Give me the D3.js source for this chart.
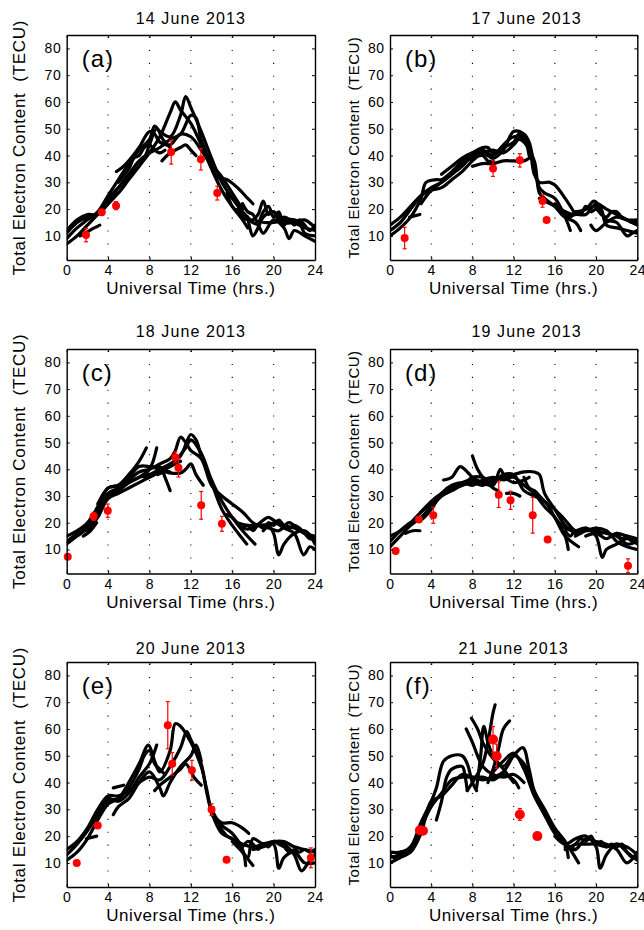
<!DOCTYPE html>
<html>
<head>
<meta charset="utf-8">
<script src="https://cdn.jsdelivr.net/npm/d3@7"></script>
<style>
  body { margin: 0; background: #fff; }
  svg text { font-family: "Liberation Sans", Arial, Helvetica, sans-serif; fill: #000; white-space: pre; }
</style>
</head>
<body>
<svg id="fig" width="644" height="930"></svg>
<script>
// ---- data ----
const panelLetters = ["(a)", "(b)", "(c)", "(d)", "(e)", "(f)"];
const panelTitles = ["14 June 2013", "17 June 2013", "18 June 2013", "19 June 2013", "20 June 2013", "21 June 2013"];
const xTickValues = [0, 4, 8, 12, 16, 20, 24];
const yTickValues = [10, 20, 30, 40, 50, 60, 70, 80];
const xLabel = "Universal Time (hrs.)";
const yLabel = "Total Electron Content  (TECU)";

// GPS TEC arcs, [UT hour, TECU]
const tracksA = [
  [[0,7],[1,10],[2,14],[3,18],[4,22],[5,26],[6,31],[7,36],[8,41],[9,47],[10,56],[10.5,60],[11,57],[12,52],[13,44],[14,35],[15,27],[16,21],[17,16],[17.5,13]],
  [[0,9],[1,13],[2,16],[3,19],[4,25],[5,31],[6,37],[7,42],[8,46],[8.5,51],[9,49],[10,47],[11,55],[11.5,62],[12,58],[13,49],[14,39],[15,30],[16,24],[17,19],[18,15]],
  [[0,11],[1,15],[2,17],[3,18],[4,22],[5,28],[6,33],[7,38],[8,41],[9,43],[10,46],[11,48],[12,55],[12.5,54],[13,46],[14,37],[15,32],[16,26],[17,20]],
  [[0,12],[1,16],[2,18],[2.8,18],[3.5,21],[4.5,26],[5.5,30],[6.5,34],[7.5,39],[8,44],[8.7,50],[9.3,46],[10,43]],
  [[1.3,10],[2.2,12],[3.2,14]],
  [[4.8,34],[5.5,36],[6,38],[7,43],[8,49],[8.5,48],[9,45],[10,44],[11,48],[12,47],[13,42],[14,36],[14.5,32],[15.5,31],[16.5,28],[17.5,24],[18,22]],
  [[5,30],[6,35],[6.5,39],[7,40],[7.5,43],[8,44],[8.5,42],[9,41],[9.5,42]],
  [[9.2,38],[10,41],[11,43],[11.5,44],[12,42],[12.5,40]],
  [[15.5,26],[16,21],[17,17],[17.5,16],[18,16],[18.5,18],[19,23],[19.5,18],[20,19],[20.5,16],[21,17],[22,15],[23,13],[24,12]],
  [[16.5,20],[17,18],[18,15],[18.5,14],[19,11],[20,16],[21,13],[21.5,9],[22,12],[23,10],[24,8]],
  [[17.5,17],[18,10],[18.5,13],[19,17],[20,19],[21,15],[22,15],[23,16],[24,13]],
  [[17,22],[17.5,19],[18,18],[18.5,15],[19,19],[19.5,21],[20,17],[20.5,19],[21,14],[21.5,16],[22,14],[22.5,16],[23,14],[23.5,12],[24,14]],
  [[19,15],[20,15],[21,16],[22,16],[22.5,15],[23,11],[24,10]]
];
const tracksB = [
  [[0,10],[1,13],[2,17],[3,24],[3.5,30],[4.5,31],[5,31],[6,34],[7,38],[8,41],[9,43],[9.5,43],[10,41],[11,43],[12,45],[12.5,48],[13,47],[13.5,44],[14,33],[14.5,30],[15.5,30],[16,29],[17,24],[18,18]],
  [[0,12],[1,15],[2,20],[3,25],[4,28],[5,30],[6,33],[7,36],[8,40],[9,41],[10,39],[11,42],[12,49],[13,48],[13.5,45],[14,36],[14.5,28],[15,26],[16,24],[17,17],[17.5,12]],
  [[0,14],[1,17],[2,21],[3,25],[4,27],[5,28],[6,31],[7,34],[8,38],[9,41],[10,42],[11,41],[12,44],[12.5,46],[13,45],[14,38],[14.5,26],[15,24],[16,21],[17,17],[18,15],[18.5,12]],
  [[3,22],[4,27],[5,30],[6,33],[7,37],[8,39],[9,40],[9.5,38],[10,38]],
  [[5,33],[6,36],[7,39],[8,41],[9,42],[10,40],[11,44],[12,47],[13,46],[13.5,40]],
  [[1.9,17],[2.9,18]],
  [[8,36],[9,37],[10,37],[11,38],[12,38],[13,38],[13.5,39]],
  [[14.5,24],[15,23],[16,21],[17,17],[18,18],[19,18],[20,22],[21,20],[22,18],[23,16],[24,14]],
  [[16,22],[17,19],[18,18],[19,20],[20,21],[21,16],[22,15],[23,10],[23.5,11],[24,12]],
  [[17,19],[17.5,17],[18,19],[18.5,18],[19,21],[19.5,19],[20,20],[20.5,18],[21,17],[21.5,19],[22,19],[22.5,17],[23,16],[23.5,15],[24,15]],
  [[18,19],[19,20],[19.8,23],[20.5,20],[21,14],[22,13],[23,12],[24,11]],
  [[19.5,14],[20,12],[21,15],[22,17],[23,16],[24,16]]
];
const tracksC = [
  [[0,12],[1,15],[2,18],[3,24],[4,31],[5,33],[6,36],[7,39],[8,40],[9,42],[10,44],[10.5,47],[11,52],[11.5,50],[12,47],[13,44],[14,34],[15,30],[16,27],[17,24],[18,20],[18.5,19]],
  [[0,15],[1,17],[2,20],[3,26],[4,33],[5,34],[6,38],[7,43],[7.7,48]],
  [[0,13],[1,16],[2,19],[3,24],[4,30],[5,32],[6,35],[7,37],[8,40],[8.7,48]],
  [[2,17],[3,22],[4,29],[5,31],[6,33],[7,35],[8,37],[9,39],[10,41],[11,43]],
  [[3,27],[4,33],[5,34],[6,37],[7,41],[8,41],[9,40],[10,39]],
  [[1.6,15],[2.3,17],[2.9,20]],
  [[5,32],[6,35],[7,37],[8,38],[9,40],[10,42],[11,45],[12,53],[12.5,51],[13,45],[14,35],[15,25],[16,19],[17,14],[17.4,12]],
  [[7.5,37],[8,40],[9,41],[9.5,37],[10,32]],
  [[8.8,38],[9.5,39],[10,38.6],[11,38.6],[11.5,40],[12,42],[12.5,38],[13.2,34]],
  [[10.5,43],[11.5,48],[12,51],[13,46],[14,36],[15,28],[16,22],[17,17],[18.2,12]],
  [[15.5,23],[16,22],[17,18],[18,18],[19,21],[19.5,22],[20,21],[21,19],[22,18],[23,16],[24,15]],
  [[16.5,20],[17.5,19],[18.5,19],[19.5,19],[20,16],[20.5,8],[21,12],[22,16],[23,17],[24,13]],
  [[17,18],[17.5,19],[18,17],[18.5,19],[19,18],[19.5,20],[20,19],[20.5,21],[21,19],[21.5,18],[22,19],[22.5,18],[23,16],[23.5,14],[24,14]],
  [[19,17],[20,20],[21,18],[22,16],[22.9,8],[23.5,11],[24,10]],
  [[18.5,19],[19.5,18],[20.5,17],[21.5,20],[22.5,17],[23.5,15],[24,12]]
];
const tracksD = [
  [[0,11],[1,15],[2,19],[3,22],[4,26],[5,30],[6,33],[7,35],[8,36],[9,35],[10,36],[11,37],[12,38],[13,39],[14,39],[14.5,38],[15,31],[16,25],[17,19],[18,16]],
  [[0,13],[1,17],[2,20],[3,21],[4,25],[5,31],[6,34],[7,35],[8,34],[9,36],[10,37],[11,36],[12,37],[13,34],[14,31],[15,26],[16,22],[17,15],[17.3,10]],
  [[0,15],[1,17],[2,20],[3,24],[4,28],[5,31],[6,33],[7,34],[8,37],[9,37],[10,35],[11,38],[12,38],[13,32],[14,30],[15,28],[16,22],[17,15],[18.3,11]],
  [[3,24],[4,27],[5,30],[6,32],[7,34],[8,35],[9,34],[10,36],[11,37],[12,35],[13,36],[13.5,37]],
  [[1.5,16],[2.2,17],[2.9,17]],
  [[5.2,36],[6,37],[6.8,41],[7.5,39],[8,37],[9,35],[10,34],[10.7,40],[11,38]],
  [[8,45],[8.5,40],[9,37],[10,33],[10.5,32]],
  [[11.3,31],[12,31],[12.6,30]],
  [[13,37],[13.5,33],[14,32],[15,28],[16,25],[17,21],[18,17],[19,17],[20,17],[21,16],[22,15],[23,12],[24,13]],
  [[16,22],[17,18],[18,17],[19,18],[20,15],[20.6,7],[21,10],[22,12],[23,14],[24,12]],
  [[17,17],[17.5,15],[18,17],[18.5,16],[19,18],[19.5,17],[20,18],[20.5,16],[21,17],[21.5,15],[22,16],[22.5,14],[23,15],[23.5,13],[24,14]],
  [[18,15],[19,17],[20,18],[21,17],[22,13],[23,11],[24,10]],
  [[19,15],[20,16],[21,14],[22,16],[23,15],[24,14]]
];
const tracksE = [
  [[0,11],[1,14],[2,19],[3,26],[4,32],[5,34],[6,40],[7,47],[7.9,54],[8.5,48],[9,44],[10,52],[10.5,62],[11,61],[12,55],[13,46],[13.5,38],[14,30],[15,24],[16,21],[17,15],[17.3,9]],
  [[0,13],[1,17],[2,22],[3,28],[4,34],[5,33],[6,36],[7,42],[8,47],[8.7,54]],
  [[0,15],[1,18],[2,23],[3,30],[4,35],[5,35],[6,37],[7,40],[8,42],[9,41],[10,46],[11,53],[11.6,59],[12,56],[13,47],[13.5,37],[14,29],[15,21],[16,19],[17,14],[18,9]],
  [[3,27],[4,33],[5,34],[6,38],[7,45],[7.5,50],[8,52],[8.5,47],[9,45],[9.5,43]],
  [[1.9,19],[2.9,20]],
  [[4.5,38],[5.5,39]],
  [[4.5,28],[5,31],[6,34],[7,40],[8,44],[9,38],[9.35,35],[10,40],[11,46],[12,50],[12.5,54],[13,48]],
  [[8.5,37],[9,39],[10,42],[11,45],[11.5,47],[12.3,42],[13,39]],
  [[14,28],[15,25],[16,25],[17,23],[17.6,21]],
  [[14.5,25],[15.5,20],[16,19],[17,17],[18,16],[19,17],[20,18],[21,18],[22,16],[23,15],[24,14]],
  [[16,18],[17,14],[17.5,12],[18,19],[19,17],[20,17],[20.5,8],[21,12],[22,14],[23,10],[24,10]],
  [[17,16],[17.5,18],[18,17],[18.5,15],[19,17],[19.5,16],[20,18],[20.5,17],[21,16],[21.5,14],[22,15],[22.5,14],[23,15],[23.5,14],[24,15]],
  [[18,15],[19,16],[20,18],[21,17],[22,13],[22.7,7],[23.5,11],[24,13]]
];
const tracksF = [
  [[0,12],[1,13],[2,15],[3,23],[4,31],[5,36],[6,41],[7,42],[8,42],[9,42],[10,41],[11,43],[12,41],[12.5,38]],
  [[0,10],[1,12],[2,14],[3,21],[4,33],[5,35],[6,39],[7,43],[8,42],[9,41],[10,42],[11,44],[12,50],[12.9,53],[13.5,45],[14,37],[15,30],[16,23],[17,18],[18.3,10]],
  [[0,14],[1,14],[2,16],[3,25],[4,33],[4.5,38],[5.2,48],[6,50],[7,50],[7.5,47],[8,40],[8.4,37]],
  [[0,13],[0.5,12],[1,14],[1.5,13],[2,16],[2.5,18],[3,22]],
  [[4.5,26],[5,33],[5.5,42],[6,45],[7,46],[7.3,42],[7.5,37]],
  [[7.4,60],[8,55],[8.5,50],[9,46],[10,43],[11,42],[12,43],[13,40]],
  [[7.9,64],[8.5,60],[9,55],[10,49],[11,46],[12,50],[13,47],[14,36],[15,28],[16,21],[17,17],[18,15]],
  [[7.5,37],[8,40],[9,47],[9.5,55],[10,66],[10.2,69]],
  [[8.4,38],[8.8,50],[9.1,61],[9.5,55],[10,50],[11,45],[12,40]],
  [[9.5,40],[10,45],[10.5,52],[11,60],[11.6,63]],
  [[10,44],[11,48],[12,51],[13,45],[14,35],[15,28],[16,22],[17,17],[17.3,12]],
  [[16,20],[17,17],[18,19],[19,20],[20,16],[20.4,8],[21,13],[22,17],[23,14],[24,11]],
  [[17,15],[17.5,16],[18,17],[18.5,19],[19,18],[19.5,20],[20,17],[20.5,18],[21,16],[21.5,17],[22,16],[22.5,17],[23,14],[23.5,12],[24,12]],
  [[17,16],[18,15],[19,19],[20,18],[21,17],[22,15],[23,10],[24,14]],
  [[18,17],[19,17],[20,17],[21,16],[22,17],[23,16],[24,13]]
];

// red measurements, [UT hour, TECU, error half-width]
const obsA = [[1.87,10.3,2.5],[3.39,18.8,1.0],[4.77,21.3,1.5],[10.1,41.3,4.5],[12.97,38.6,4.0],[14.55,26.0,2.6]];
const obsB = [[1.42,9.2,4.0],[10.0,35.2,3.0],[12.6,38.2,2.5],[14.8,23.0,2.3],[15.2,15.9,0]];
const obsC = [[0.1,7.3,0],[2.6,22.4,1.5],[3.97,24.5,2.5],[10.5,44.5,2.0],[10.8,40.6,3.5],[13.0,26.5,5.2],[15.0,19.6,2.8]];
const obsD = [[0.55,9.4,0],[2.8,21.2,0.8],[4.2,22.8,3.0],[10.55,30.5,4.8],[11.7,28.4,3.4],[13.85,22.8,6.7],[15.3,13.7,0],[23.1,3.9,2.6]];
const obsE = [[0.97,10.0,0],[3.0,24.0,0],[9.77,61.4,8.8],[10.2,47.0,4.2],[12.1,44.6,3.7],[14.0,29.9,2.2],[15.45,11.2,0],[23.6,11.9,3.7]];
const obsF = [[2.9,22.2,0],[3.2,22.0,0],[10.0,56.1,4.8],[10.35,49.8,4.5],[12.6,28.1,2.2],[14.3,20.0,0]];

const allTracks = [tracksA, tracksB, tracksC, tracksD, tracksE, tracksF];
const allObs = [obsA, obsB, obsC, obsD, obsE, obsF];

// ---- layout ----
const colX = [[66.7, 315], [390, 637.3]];
const rowY = [[35, 260], [349, 573.5], [662, 887]];
const titleBase = [23.5, 337, 653.5];
const titleShift = [0, 13, 0, 13, 0, 0];
const dotR = [4, 4, 4, 4, 4, 5];

const svg = d3.select("#fig");
svg.append("rect").attr("width", 644).attr("height", 930).attr("fill", "#fff");

const line = d3.line().curve(d3.curveCatmullRom.alpha(0.5));

allTracks.forEach((tracks, i) => {
  const col = i % 2, row = Math.floor(i / 2);
  const [x0, x1] = colX[col];
  const [y0, y1] = rowY[row];
  const x = d3.scaleLinear().domain([0, 24]).range([x0, x1]);
  const y = d3.scaleLinear().domain([1, 85]).range([y1, y0]);
  const g = svg.append("g");

  // dotted x grid
  g.selectAll(".grid").data(xTickValues.slice(1, -1)).join("line")
    .attr("x1", d => x(d)).attr("x2", d => x(d))
    .attr("y1", y0 + 2).attr("y2", y1)
    .attr("stroke", "#000").attr("stroke-width", 1.1)
    .attr("stroke-dasharray", "1.1,11.8");

  // tracks
  const clipId = "clip" + i;
  svg.append("clipPath").attr("id", clipId).append("rect")
    .attr("x", x0).attr("y", y0).attr("width", x1 - x0).attr("height", y1 - y0);
  g.append("g").attr("clip-path", `url(#${clipId})`)
    .selectAll("path").data(tracks).join("path")
    .attr("d", d => line(d.map(p => [x(p[0]), y(p[1])])))
    .attr("fill", "none").attr("stroke", "#000")
    .attr("stroke-width", 3.2).attr("stroke-linecap", "round").attr("stroke-linejoin", "round");

  // measurements with error bars
  const obs = allObs[i];
  const eb = g.append("g").attr("stroke", "#f00").attr("stroke-width", 1.2);
  obs.filter(d => d[2] > 0).forEach(d => {
    eb.append("line").attr("x1", x(d[0])).attr("x2", x(d[0]))
      .attr("y1", y(d[1] - d[2])).attr("y2", y(d[1] + d[2]));
    [d[1] - d[2], d[1] + d[2]].forEach(v => {
      eb.append("line").attr("x1", x(d[0]) - 2).attr("x2", x(d[0]) + 2)
        .attr("y1", y(v)).attr("y2", y(v));
    });
  });
  g.selectAll(".obs").data(obs).join("circle")
    .attr("cx", d => x(d[0])).attr("cy", d => y(d[1]))
    .attr("r", dotR[i]).attr("fill", "#f00");

  // axes, ticks inward on all four sides
  const styleAxis = a => {
    a.select(".domain").attr("stroke-width", 1.4);
    a.selectAll(".tick line").attr("stroke-width", 1);
    a.selectAll("text").attr("font-size", 14).attr("letter-spacing", 0.5)
      .attr("font-family", '"Liberation Sans", Arial, sans-serif');
  };
  g.append("g").attr("transform", `translate(0,${y1})`)
    .call(d3.axisBottom(x).tickValues(xTickValues).tickSize(-3).tickSizeOuter(0).tickPadding(5.5))
    .call(styleAxis);
  g.append("g").attr("transform", `translate(0,${y0})`)
    .call(d3.axisTop(x).tickValues(xTickValues).tickSize(-3).tickSizeOuter(0).tickFormat(""))
    .call(styleAxis);
  g.append("g").attr("transform", `translate(${x0},0)`)
    .call(d3.axisLeft(y).tickValues(yTickValues).tickSize(-3).tickSizeOuter(0).tickPadding(5.5))
    .call(styleAxis);
  g.append("g").attr("transform", `translate(${x1},0)`)
    .call(d3.axisRight(y).tickValues(yTickValues).tickSize(-3).tickSizeOuter(0).tickFormat(""))
    .call(styleAxis);

  // texts
  g.append("text").attr("x", (x0 + x1) / 2 + titleShift[i]).attr("y", titleBase[row])
    .attr("text-anchor", "middle").attr("font-size", 16).attr("letter-spacing", 1.1)
    .text(panelTitles[i]);
  g.append("text").attr("x", (x0 + x1) / 2).attr("y", y1 + 34)
    .attr("text-anchor", "middle").attr("font-size", 17).attr("letter-spacing", 0.6)
    .text(xLabel);
  const yl = col === 0 ? { off: 41.7, fs: 17, ls: 0.7 } : { off: 31, fs: 15, ls: 0.5 };
  g.append("text")
    .attr("transform", `translate(${x0 - yl.off},${(y0 + y1) / 2}) rotate(-90)`)
    .attr("text-anchor", "middle").attr("font-size", yl.fs).attr("letter-spacing", yl.ls)
    .text(yLabel);
  g.append("text").attr("x", x0 + 15).attr("y", y0 + 31.5)
    .attr("font-size", 24).attr("letter-spacing", 1)
    .text(panelLetters[i]);
});
</script>
</body>
</html>
